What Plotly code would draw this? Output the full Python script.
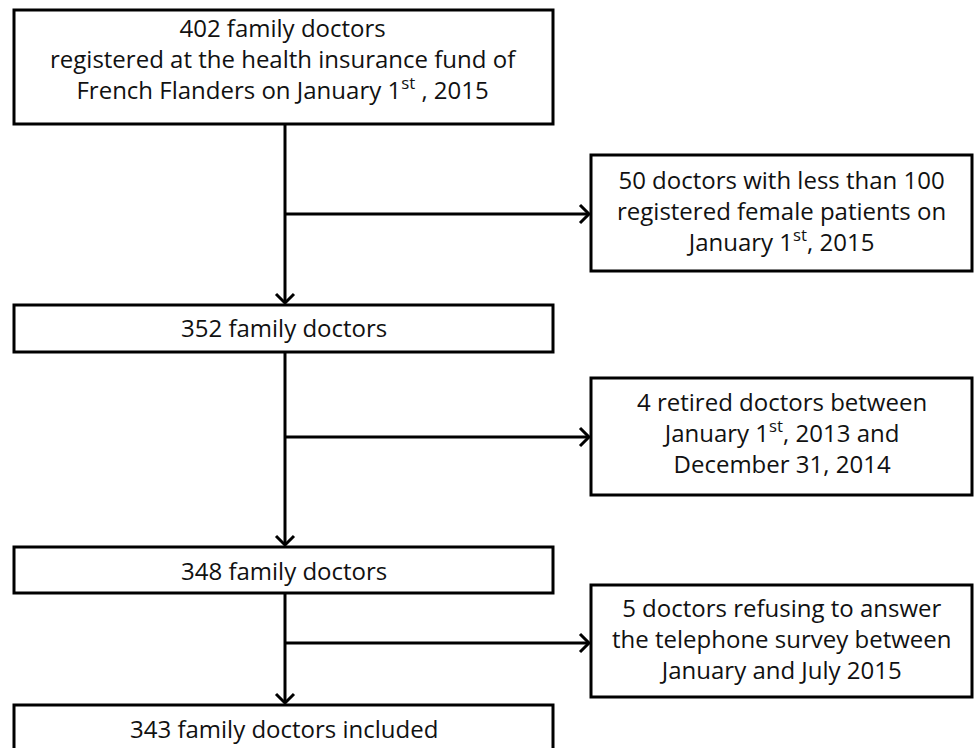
import plotly.graph_objects as go

# ---- data ----
doctors = [402, 352, 348, 343]
excluded_n = [50, 4, 5]
main_lines = [
    [f"{doctors[0]} family doctors",
     "registered at the health insurance fund of",
     "French Flanders on January 1<sup>st</sup> , 2015"],
    [f"{doctors[1]} family doctors"],
    [f"{doctors[2]} family doctors"],
    [f"{doctors[3]} family doctors included"],
]
excl_lines = [
    [f"{excluded_n[0]} doctors with less than 100",
     "registered female patients on",
     "January 1<sup>st</sup>, 2015"],
    [f"{excluded_n[1]} retired doctors between",
     "January 1<sup>st</sup>, 2013 and",
     "December 31, 2014"],
    [f"{excluded_n[2]} doctors refusing to answer",
     "the telephone survey between",
     "January and July 2015"],
]

# ---- layout constants (pixels, y downward) ----
W, H = 975, 748
MX0, MX1 = 14, 553            # main boxes x-extent
main_y = [(10, 124), (305, 352), (547, 593), (705, 770)]
main_text_cy = [58, 327, 570, 728]
EX0, EX1 = 591, 972           # exclusion boxes x-extent
excl_y = [(155, 271), (378, 495), (585, 697)]
excl_text_cy = [210, 432, 638]
arrow_y = [214, 437, 643]
VX = 285                      # vertical spine x
LW = 3
FONT = "Open Sans"
FS = 24

fig = go.Figure()
shapes = []
annotations = []

def rect(x0, y0, x1, y1):
    shapes.append(dict(type="rect", xref="x", yref="y", x0=x0, x1=x1, y0=y0, y1=y1,
                       line=dict(color="black", width=LW), fillcolor="white", layer="below"))

def line(x0, y0, x1, y1):
    shapes.append(dict(type="line", xref="x", yref="y", x0=x0, x1=x1, y0=y0, y1=y1,
                       line=dict(color="black", width=LW), layer="below"))

def chevron(tx, ty, direction, s=9):
    if direction == "down":
        path = f"M {tx-s},{ty-s} L {tx},{ty} L {tx+s},{ty-s}"
    else:
        path = f"M {tx-s},{ty-s} L {tx},{ty} L {tx-s},{ty+s}"
    shapes.append(dict(type="path", xref="x", yref="y", path=path,
                       line=dict(color="black", width=LW), layer="below"))

def text(cx, cy, lines):
    annotations.append(dict(x=cx, y=cy, xref="x", yref="y", text="<br>".join(lines),
                            showarrow=False, xanchor="center", yanchor="middle", align="center",
                            font=dict(family=FONT, size=FS, color="#111")))

for (y0, y1), ls, cy in zip(main_y, main_lines, main_text_cy):
    rect(MX0, y0, MX1, y1)
    text((MX0 + MX1) / 2, cy, ls)

for (y0, y1), ls, cy in zip(excl_y, excl_lines, excl_text_cy):
    rect(EX0, y0, EX1, y1)
    text((EX0 + EX1) / 2, cy, ls)

for i in range(3):
    top = main_y[i][1]
    bot = main_y[i + 1][0] - 2
    line(VX, top, VX, bot)
    chevron(VX, bot, "down")
    line(VX, arrow_y[i], EX0 - 2, arrow_y[i])
    chevron(EX0 - 2, arrow_y[i], "right")

fig.update_layout(
    width=W, height=H,
    margin=dict(l=0, r=0, t=0, b=0),
    paper_bgcolor="white", plot_bgcolor="white",
    xaxis=dict(range=[0, W], visible=False, fixedrange=True),
    yaxis=dict(range=[H, 0], visible=False, fixedrange=True),
    shapes=shapes, annotations=annotations,
    showlegend=False,
)
fig.write_html(
    "out.html",
    config={"displayModeBar": False},
    post_script="document.body.style.margin='0px';document.body.style.overflow='hidden';",
)
